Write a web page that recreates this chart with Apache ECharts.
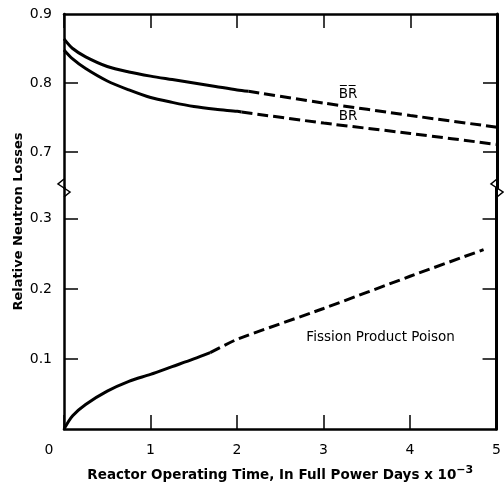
<!DOCTYPE html>
<html>
<head>
<meta charset="utf-8">
<script src="https://cdn.jsdelivr.net/npm/echarts@6/dist/echarts.min.js"></script>
<style>
  html, body { margin: 0; padding: 0; background: #fff; }
  #main { width: 504px; height: 491px; }
</style>
</head>
<body>
<div id="main"></div>
<script>
// BR (bar) - upper curve, solid then dashed
const brBarSolidX = [0, 0.1, 0.25, 0.5, 0.75, 1, 1.25, 1.5, 1.75, 2, 2.13]
const brBarSolidY = [0.864, 0.850, 0.838, 0.824, 0.816, 0.810, 0.805, 0.800, 0.795, 0.790, 0.788]
const brBarDashX = [2.13, 3, 4, 5]
const brBarDashY = [0.788, 0.771, 0.753, 0.736]
// BR - lower curve
const brSolidX = [0, 0.1, 0.25, 0.5, 0.75, 1, 1.25, 1.5, 1.75, 2, 2.05]
const brSolidY = [0.848, 0.835, 0.821, 0.803, 0.790, 0.779, 0.772, 0.766, 0.762, 0.759, 0.758]
const brDashX = [2.05, 3, 4, 5]
const brDashY = [0.758, 0.742, 0.727, 0.711]
// fission product poison
const fpSolidX = [0, 0.1, 0.25, 0.5, 0.75, 1, 1.25, 1.5, 1.69]
const fpSolidY = [0, 0.019, 0.035, 0.054, 0.068, 0.078, 0.089, 0.100, 0.109]
const fpDashX = [1.69, 2, 3, 4, 4.85]
const fpDashY = [0.109, 0.128, 0.172, 0.218, 0.256]
// tick labels
const xTicks = [0, 1, 2, 3, 4, 5]
const yTopTicks = [0.7, 0.8, 0.9]
const yBottomTicks = [0.1, 0.2, 0.3]
// curve labels: [x, y, text]
const labelBrBar = [3.28, 0.783, 'B\u0305R\u0305']
const labelBr = [3.28, 0.751, 'BR']
const labelFp = [3.66, 0.13, 'Fission Product Poison']

const toPts = (xs, ys) => xs.map((x, i) => [x, ys[i]])

const FONT = 'DejaVu Sans'
const LEFT = 64, RIGHT = 7, TOP = 14, BOTTOM = 62, BREAK_Y = 188
const AXW = 2.5

function lineSeries(xs, ys, dashed, grid, mark) {
  const s = {
    type: 'line',
    xAxisIndex: grid,
    yAxisIndex: grid * 2,
    data: toPts(xs, ys),
    smooth: dashed ? 0.2 : 0.3,
    showSymbol: false,
    symbol: 'none',
    silent: true,
    lineStyle: { color: '#000', width: 3, type: dashed ? [11, 5] : 'solid', cap: 'butt' }
  }
  if (mark) {
    s.markPoint = {
      symbol: 'circle',
      symbolSize: 1,
      itemStyle: { color: 'transparent' },
      label: { show: true, position: 'inside', color: '#000', fontFamily: FONT, fontSize: 13.5, formatter: mark[2] },
      data: [{ coord: [mark[0], mark[1]] }]
    }
  }
  return s
}

const tickStyle = { show: true, inside: true, length: 14, lineStyle: { color: '#000', width: 1.5 } }
const axLine = { show: true, lineStyle: { color: '#000', width: AXW } }
const labelStyle = { color: '#000', fontFamily: FONT, fontSize: 14 }

const chart = echarts.init(document.getElementById('main'), null, { renderer: 'canvas' })
const option = {
  backgroundColor: '#fff',
  animation: false,
  grid: [
    { left: LEFT, right: RIGHT, top: TOP, height: BREAK_Y - TOP },
    { left: LEFT, right: RIGHT, top: BREAK_Y, bottom: BOTTOM },
    { left: LEFT, right: RIGHT, top: TOP, bottom: BOTTOM }
  ],
  xAxis: [
    {
      gridIndex: 0, type: 'value', position: 'top', min: 0, max: 5, interval: 1,
      axisLine: axLine, axisTick: tickStyle, axisLabel: { show: false }, splitLine: { show: false }
    },
    {
      gridIndex: 1, type: 'value', position: 'bottom', min: 0, max: 5, interval: 1,
      axisLine: axLine, axisTick: tickStyle, splitLine: { show: false },
      axisLabel: Object.assign({}, labelStyle, {
        margin: 14,
        customValues: xTicks,
        formatter: (v) => (v === 0 ? '{z|0}' : String(v)),
        rich: { z: { fontFamily: FONT, fontSize: 14, color: '#000', padding: [0, 30, 0, 0] } }
      }),
      name: 'Reactor Operating Time, In Full Power Days x 10{sup|\u22123}',
      nameLocation: 'middle',
      nameGap: 36,
      nameTextStyle: {
        color: '#000', fontFamily: FONT, fontSize: 13.5, fontWeight: 'bold',
        rich: { sup: { color: '#000', fontFamily: FONT, fontSize: 11, fontWeight: 'bold', padding: [0, 0, 9, 0] } }
      }
    },
    { gridIndex: 2, type: 'value', min: 0, max: 5, show: false }
  ],
  yAxis: [
    {
      gridIndex: 0, type: 'value', position: 'left', min: 0.648, max: 0.9,
      axisLine: axLine, splitLine: { show: false },
      axisTick: Object.assign({}, tickStyle, { customValues: [0.7, 0.8] }),
      axisLabel: Object.assign({}, labelStyle, { margin: 12, customValues: yTopTicks, formatter: (v) => v.toFixed(1) })
    },
    {
      gridIndex: 0, type: 'value', position: 'right', min: 0.648, max: 0.9,
      axisLine: { show: true, lineStyle: { color: '#000', width: 3 } }, splitLine: { show: false },
      axisTick: Object.assign({}, tickStyle, { customValues: [0.7, 0.8] }),
      axisLabel: { show: false }
    },
    {
      gridIndex: 1, type: 'value', position: 'left', min: 0, max: 0.344,
      axisLine: axLine, splitLine: { show: false },
      axisTick: Object.assign({}, tickStyle, { customValues: yBottomTicks }),
      axisLabel: Object.assign({}, labelStyle, { margin: 12, customValues: yBottomTicks, formatter: (v) => v.toFixed(1) })
    },
    {
      gridIndex: 1, type: 'value', position: 'right', min: 0, max: 0.344,
      axisLine: { show: true, lineStyle: { color: '#000', width: 3 } }, splitLine: { show: false },
      axisTick: Object.assign({}, tickStyle, { customValues: yBottomTicks }),
      axisLabel: { show: false }
    },
    {
      gridIndex: 2, type: 'value', position: 'left', min: 0, max: 1,
      axisLine: { show: false }, axisTick: { show: false }, axisLabel: { show: false }, splitLine: { show: false },
      name: 'Relative Neutron Losses',
      nameLocation: 'middle',
      nameGap: 39,
      nameTextStyle: { color: '#000', fontFamily: FONT, fontSize: 13, fontWeight: 'bold' }
    }
  ],
  series: [
    lineSeries(brBarSolidX, brBarSolidY, false, 0),
    lineSeries(brBarDashX, brBarDashY, true, 0, labelBrBar),
    lineSeries(brSolidX, brSolidY, false, 0),
    lineSeries(brDashX, brDashY, true, 0, labelBr),
    lineSeries(fpSolidX, fpSolidY, false, 1),
    lineSeries(fpDashX, fpDashY, true, 1, labelFp)
  ],
  // zigzag break marks on both vertical axes
  graphic: [LEFT, 504 - RIGHT].map((ax) => ({
    type: 'group',
    children: [
      { type: 'rect', shape: { x: ax - 3, y: BREAK_Y - 8, width: 6, height: 17 }, style: { fill: '#fff' } },
      {
        type: 'polyline',
        shape: { points: [[ax, BREAK_Y - 9], [ax - 6, BREAK_Y - 4], [ax + 6, BREAK_Y + 4], [ax, BREAK_Y + 9]] },
        style: { stroke: '#000', lineWidth: 1.5, fill: null }
      }
    ]
  }))
}
chart.setOption(option)
</script>
</body>
</html>
